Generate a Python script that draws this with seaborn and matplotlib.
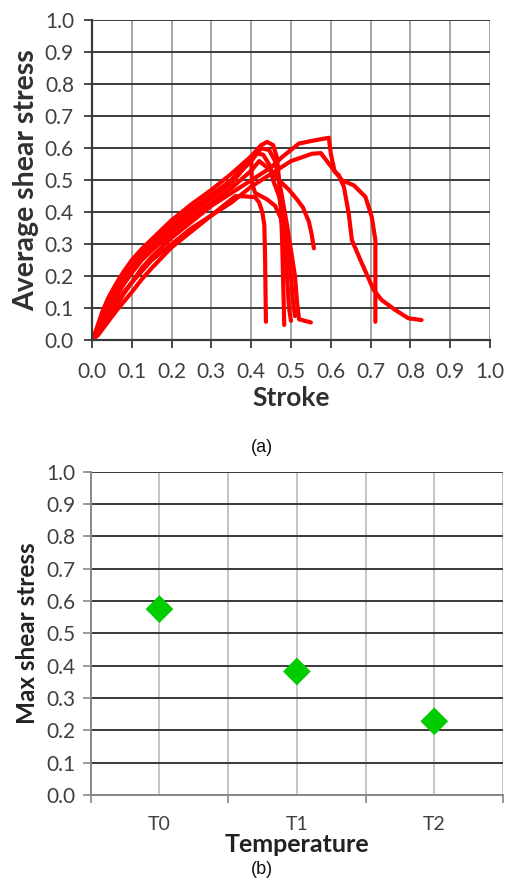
import numpy as np
import pandas as pd
import matplotlib
matplotlib.use("Agg")
import matplotlib.pyplot as plt
import seaborn as sns

# ---------------- data ----------------
curve_names = ["A", "B", "C1", "C2", "C3", "C4", "C5", "C6"]

A_x = [0, 0.015, 0.03, 0.045, 0.06, 0.08, 0.1, 0.125, 0.15, 0.2, 0.25, 0.3, 0.35, 0.4, 0.45, 0.478,
       0.52, 0.56, 0.595, 0.6, 0.61, 0.62, 0.633, 0.645, 0.653, 0.678, 0.708, 0.728, 0.762, 0.795, 0.828]
A_y = [0, 0.025, 0.055, 0.085, 0.115, 0.15, 0.18, 0.225, 0.26, 0.32, 0.37, 0.42, 0.46, 0.50, 0.54, 0.573,
       0.615, 0.625, 0.633, 0.583, 0.526, 0.516, 0.479, 0.396, 0.3125, 0.24, 0.156, 0.125, 0.094, 0.068, 0.0625]

B_x = [0, 0.015, 0.03, 0.045, 0.06, 0.08, 0.1, 0.125, 0.15, 0.2, 0.25, 0.3, 0.35, 0.4, 0.45, 0.5,
       0.553, 0.575, 0.595, 0.628, 0.658, 0.687, 0.703, 0.712, 0.712, 0.712]
B_y = [0, 0.015, 0.04, 0.065, 0.09, 0.12, 0.15, 0.19, 0.225, 0.29, 0.34, 0.39, 0.43, 0.48, 0.52, 0.56,
       0.583, 0.585, 0.552, 0.50, 0.484, 0.448, 0.385, 0.3125, 0.2, 0.057]

C1_x = [0, 0.01, 0.025, 0.04, 0.06, 0.08, 0.1, 0.125, 0.15, 0.2, 0.25, 0.3, 0.35, 0.4, 0.425, 0.44,
        0.455, 0.465, 0.47, 0.475, 0.478, 0.48, 0.482, 0.483]
C1_y = [0, 0.03, 0.085, 0.13, 0.175, 0.215, 0.25, 0.285, 0.315, 0.375, 0.425, 0.47, 0.52, 0.575, 0.61, 0.62,
        0.61, 0.57, 0.5, 0.4, 0.3, 0.2, 0.1, 0.047]

C2_x = [0, 0.01, 0.025, 0.04, 0.06, 0.08, 0.1, 0.125, 0.15, 0.2, 0.25, 0.3, 0.35, 0.4, 0.425, 0.445,
        0.46, 0.47, 0.48, 0.49, 0.5, 0.51, 0.515, 0.52, 0.535, 0.55]
C2_y = [0, 0.025, 0.07, 0.11, 0.155, 0.195, 0.23, 0.27, 0.30, 0.36, 0.41, 0.455, 0.50, 0.56, 0.60, 0.595,
        0.56, 0.5, 0.43, 0.36, 0.28, 0.2, 0.12, 0.065, 0.06, 0.055]

C3_x = [0, 0.01, 0.025, 0.04, 0.06, 0.08, 0.1, 0.125, 0.15, 0.2, 0.25, 0.3, 0.35, 0.39, 0.41, 0.43,
        0.445, 0.455, 0.47, 0.48, 0.49, 0.5, 0.505, 0.51]
C3_y = [0, 0.02, 0.06, 0.1, 0.145, 0.185, 0.22, 0.26, 0.29, 0.35, 0.40, 0.445, 0.49, 0.55, 0.585, 0.58,
        0.55, 0.5, 0.45, 0.38, 0.3, 0.2, 0.12, 0.075]

C4_x = [0, 0.01, 0.025, 0.04, 0.06, 0.08, 0.1, 0.125, 0.15, 0.2, 0.25, 0.3, 0.35, 0.4, 0.42, 0.45,
        0.47, 0.495, 0.515, 0.53, 0.545, 0.552, 0.5575]
C4_y = [0, 0.02, 0.055, 0.09, 0.135, 0.175, 0.21, 0.25, 0.28, 0.335, 0.385, 0.43, 0.475, 0.53, 0.56, 0.53,
        0.50, 0.47, 0.44, 0.415, 0.37, 0.33, 0.287]

C5_x = [0, 0.015, 0.03, 0.045, 0.06, 0.08, 0.1, 0.125, 0.15, 0.2, 0.25, 0.3, 0.34, 0.36, 0.38, 0.41,
        0.42, 0.428, 0.433, 0.435, 0.436, 0.437]
C5_y = [0, 0.02, 0.045, 0.075, 0.105, 0.145, 0.18, 0.215, 0.25, 0.30, 0.35, 0.39, 0.43, 0.45, 0.45, 0.447,
        0.43, 0.40, 0.36, 0.25, 0.15, 0.057]

C6_x = [0, 0.01, 0.025, 0.04, 0.06, 0.08, 0.1, 0.125, 0.15, 0.2, 0.25, 0.3, 0.35, 0.39, 0.40, 0.402,
        0.41, 0.44, 0.46, 0.475, 0.485, 0.49, 0.495, 0.5]
C6_y = [0, 0.025, 0.075, 0.115, 0.16, 0.2, 0.225, 0.265, 0.295, 0.355, 0.405, 0.45, 0.50, 0.555, 0.57, 0.49,
        0.46, 0.44, 0.42, 0.38, 0.3, 0.2, 0.1, 0.06]

temps = ["T0", "T1", "T2"]
max_shear = [0.575, 0.382, 0.228]

ticks_01 = [0.0, 0.1, 0.2, 0.3, 0.4, 0.5, 0.6, 0.7, 0.8, 0.9, 1.0]
tick_labels_01 = ["0.0", "0.1", "0.2", "0.3", "0.4", "0.5", "0.6", "0.7", "0.8", "0.9", "1.0"]

# ---------------- build long-form table ----------------
xs = [A_x, B_x, C1_x, C2_x, C3_x, C4_x, C5_x, C6_x]
ys = [A_y, B_y, C1_y, C2_y, C3_y, C4_y, C5_y, C6_y]
rows = []
for name, cx, cy in zip(curve_names, xs, ys):
    for i, (a, b) in enumerate(zip(cx, cy)):
        rows.append({"curve": name, "order": i, "Stroke": a, "Stress": b})
df_curves = pd.DataFrame(rows)
df_max = pd.DataFrame({"Temperature": temps, "Max": max_shear})

# ---------------- style ----------------
sns.set_theme(style="white")
plt.rcParams["font.family"] = ["Lato", "DejaVu Sans"]

fig = plt.figure(figsize=(5.14, 8.84), dpi=100)
W, H = 514, 884


def ax_rect(l, r, t, b):
    return [l / W, 1 - b / H, (r - l) / W, (b - t) / H]


DARK = "#3a3a3a"
LIGHT = "#a6a6a6"

# ---------------- top chart ----------------
ax1 = fig.add_axes(ax_rect(92, 490, 20.5, 340))
sns.lineplot(data=df_curves, x="Stroke", y="Stress", units="curve", estimator=None,
             sort=False, color="#ff0000", linewidth=3.0, ax=ax1, legend=False)
for ln in ax1.lines:
    ln.set_solid_joinstyle("round")
    ln.set_solid_capstyle("round")
ax1.set_xlim(0, 1.0)
ax1.set_ylim(0, 1.0)
ax1.set_xticks(ticks_01)
ax1.set_xticklabels(tick_labels_01)
ax1.set_yticks(ticks_01)
ax1.set_yticklabels(tick_labels_01)
ax1.set_axisbelow(True)
ax1.yaxis.grid(True, color=DARK, linewidth=1.4)
ax1.xaxis.grid(True, color=LIGHT, linewidth=1.4)
for s in ["top", "right"]:
    ax1.spines[s].set_visible(False)
ax1.spines["left"].set_color(DARK)
ax1.spines["left"].set_linewidth(1.6)
ax1.spines["bottom"].set_color(DARK)
ax1.spines["bottom"].set_linewidth(1.6)
ax1.tick_params(axis="both", which="major", direction="out", length=6, width=1.3,
                color=DARK, labelsize=15, labelcolor="#404040")
ax1.tick_params(axis="y", pad=7, left=True)
ax1.tick_params(axis="x", pad=10, bottom=True)
ax1.set_xlabel("Stroke", fontsize=19, fontweight="bold", color="#303030", labelpad=3)
ax1.set_ylabel("Average shear stress", fontsize=20.5, fontweight="bold", color="#303030", labelpad=4)

fig.text(262 / W, 1 - 447 / H, "(a)", ha="center", va="center", fontsize=13,
         family=["Liberation Sans", "DejaVu Sans"], color="#111111")

# ---------------- bottom chart ----------------
ax2 = fig.add_axes(ax_rect(90.7, 503, 471.7, 795))
sns.scatterplot(data=df_max, x="Temperature", y="Max", marker="D", s=200,
                color="#00cc00", edgecolor="none", ax=ax2, legend=False, zorder=5)
ax2.set_xlim(-0.5, 2.5)
ax2.set_ylim(0, 1.0)
ax2.set_yticks(ticks_01)
ax2.set_yticklabels(tick_labels_01)
ax2.set_xticks([0, 1, 2])
ax2.set_xticks([-0.5, 0.5, 1.5, 2.5], minor=True)
ax2.set_axisbelow(True)
ax2.yaxis.grid(True, color=DARK, linewidth=1.4)
ax2.xaxis.grid(True, which="both", color="#c0c0c0", linewidth=1.3)
for s in ["top", "right"]:
    ax2.spines[s].set_visible(False)
ax2.spines["left"].set_color("#888888")
ax2.spines["left"].set_linewidth(1.4)
ax2.spines["bottom"].set_color("#888888")
ax2.spines["bottom"].set_linewidth(1.4)
ax2.tick_params(axis="y", direction="out", length=6, width=1.2, color="#888888",
                labelsize=15, labelcolor="#404040", pad=5, left=True)
ax2.tick_params(axis="x", which="major", length=0, labelsize=14, labelcolor="#404040", pad=15)
ax2.tick_params(axis="x", which="minor", direction="out", length=6, width=1.2,
                color="#888888", bottom=True)
ax2.set_xlabel("Temperature", fontsize=18, fontweight="bold", color="#222222", labelpad=0)
ax2.set_ylabel("Max shear stress", fontsize=17.5, fontweight="bold", color="#222222", labelpad=5)

fig.text(262 / W, 1 - 870 / H, "(b)", ha="center", va="center", fontsize=13,
         family=["Liberation Sans", "DejaVu Sans"], color="#111111")

fig.savefig("out.png", dpi=100, facecolor="white")
